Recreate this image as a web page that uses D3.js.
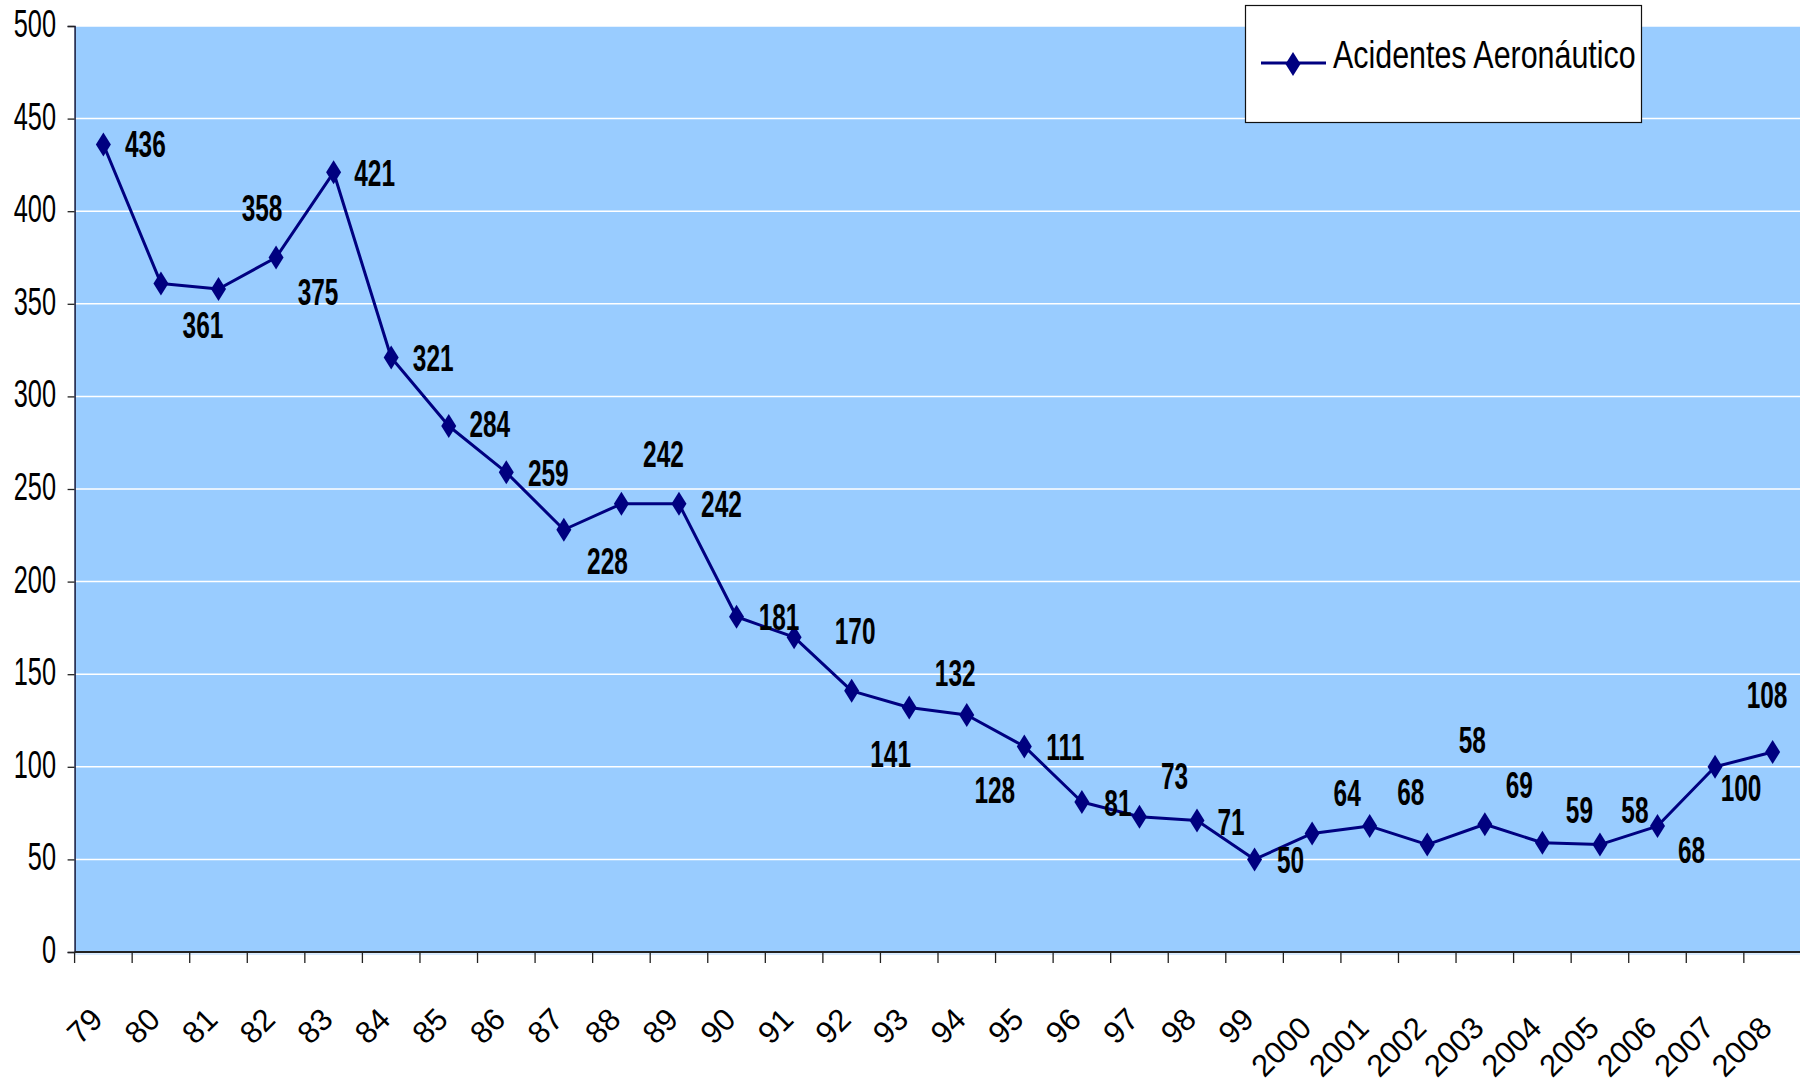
<!DOCTYPE html>
<html><head><meta charset="utf-8">
<script src="https://cdn.jsdelivr.net/npm/d3@7"></script>
<style>body{margin:0;background:#fff;overflow:hidden}</style>
</head><body>
<svg id="c" width="1800" height="1083"></svg>
<script>
// ---- data ----
const years = ["79","80","81","82","83","84","85","86","87","88","89","90","91","92","93","94","95","96","97","98","99","2000","2001","2002","2003","2004","2005","2006","2007","2008"];
const accidents = [436,361,358,375,421,321,284,259,228,242,242,181,170,141,132,128,111,81,73,71,50,64,68,58,69,59,58,68,100,108];
const yTicks = [0,50,100,150,200,250,300,350,400,450,500];
const seriesName = "Acidentes Aeronáutico";
// label placement offsets (px) from each marker
const labelOffsets = [[42,-1],[42,41],[43.5,-81.5],[42,34.5],[41,0],[42,0],[41,-2],[42,0],[43.6,31],[42,-50],[42.5,0],[42.5,0],[61,-6],[39,62.6],[46,-35],[28,75],[41,0],[36,1],[35,-41],[34,1],[36,0],[35,-41],[41,-34],[45,-104.6],[34.5,-40],[37,-33],[35,-35],[34,24],[26,21],[-5.6,-57.5]];

(function() {
const FONT = "'Liberation Sans', Arial, sans-serif";
const NAVY = "#000080";
const svg = d3.select("#c");
const pL = 74.6, pR = 1801.4, pT = 26, pB = 952;

const x = d3.scaleBand().domain(years).range([pL, pR]).padding(0);
const y = d3.scaleLinear().domain([0, 500]).range([pB, pT]);
const cx = d => x(d) + x.bandwidth() / 2;

// plot background
svg.append("rect").attr("x", pL).attr("y", pT).attr("width", pR - pL).attr("height", pB - pT).attr("fill", "#99CCFF");

// gridlines
svg.append("g").selectAll("line").data(yTicks.filter(t => t > 0)).join("line")
  .attr("x1", pL).attr("x2", pR).attr("y1", d => y(d)).attr("y2", d => y(d))
  .attr("stroke", "#ffffff").attr("stroke-width", 1.5);

// y axis
const yAxis = svg.append("g").attr("transform", `translate(${pL},0)`)
  .call(d3.axisLeft(y).tickValues(yTicks).tickSize(7).tickFormat(""));
yAxis.select(".domain").attr("stroke", "#1a1a3a").attr("stroke-width", 1.5);
yAxis.selectAll(".tick line").attr("stroke", "#222").attr("stroke-width", 1.3);
const sxY = 0.667;
svg.append("g").selectAll("text").data(yTicks).join("text")
  .attr("transform", d => `translate(56,${y(d) + 11}) scale(${sxY},1)`)
  .attr("text-anchor", "end").attr("font-family", FONT).attr("font-size", 38).attr("fill", "#000")
  .text(d => d);

// x axis line and boundary ticks
svg.append("line").attr("x1", pL).attr("x2", pR).attr("y1", pB).attr("y2", pB)
  .attr("stroke", "#222").attr("stroke-width", 2);
svg.append("line").attr("x1", pL).attr("x2", pR).attr("y1", pB + 2).attr("y2", pB + 2)
  .attr("stroke", "#cfe6ff").attr("stroke-width", 1.5);
svg.append("g").selectAll("line").data(years).join("line")
  .attr("x1", d => x(d)).attr("x2", d => x(d)).attr("y1", pB).attr("y2", pB + 11)
  .attr("stroke", "#222").attr("stroke-width", 1.3);

// x labels rotated
const xl = svg.append("g").selectAll("text").data(years).join("text")
  .attr("text-anchor", "end").attr("font-family", FONT).attr("font-size", 31).attr("fill", "#000")
  .text(d => d);
xl.each(function(d) {
  const len = this.getComputedTextLength();
  d3.select(this).attr("transform", `translate(${cx(d) + 1},${1013 + 0.243 * len}) rotate(-45)`);
});

// line
const line = d3.line().x((v, i) => cx(years[i])).y(v => y(v));
svg.append("path").datum(accidents).attr("d", line).attr("fill", "none")
  .attr("stroke", NAVY).attr("stroke-width", 3).attr("stroke-linejoin", "round");

// markers
const dw = 7.5, dh = 12;
const diamond = `M0,${-dh}L${dw},0L0,${dh}L${-dw},0Z`;
svg.append("g").selectAll("path").data(accidents).join("path")
  .attr("transform", (v, i) => `translate(${cx(years[i])},${y(v)})`)
  .attr("d", diamond).attr("fill", NAVY);

// data labels
const sxL = 0.66;
svg.append("g").selectAll("text").data(accidents).join("text")
  .attr("transform", (v, i) => `translate(${cx(years[i]) + labelOffsets[i][0]},${y(v) + labelOffsets[i][1] + 13.3}) scale(${sxL},1)`)
  .attr("text-anchor", "middle").attr("font-family", FONT).attr("font-weight", "bold")
  .attr("font-size", 37).attr("fill", "#000")
  .text(v => v);

// legend
const lg = svg.append("g");
lg.append("rect").attr("x", 1245.5).attr("y", 5.5).attr("width", 396).attr("height", 117)
  .attr("fill", "#fff").attr("stroke", "#111").attr("stroke-width", 1.2);
lg.append("line").attr("x1", 1261).attr("x2", 1326).attr("y1", 63).attr("y2", 63)
  .attr("stroke", NAVY).attr("stroke-width", 3);
lg.append("path").attr("transform", "translate(1293,64)").attr("d", diamond).attr("fill", NAVY);
lg.append("text").attr("transform", "translate(1333,68) scale(0.78,1)")
  .attr("font-family", FONT).attr("font-size", 39).attr("fill", "#000").text(seriesName);
})();
</script>
</body></html>
